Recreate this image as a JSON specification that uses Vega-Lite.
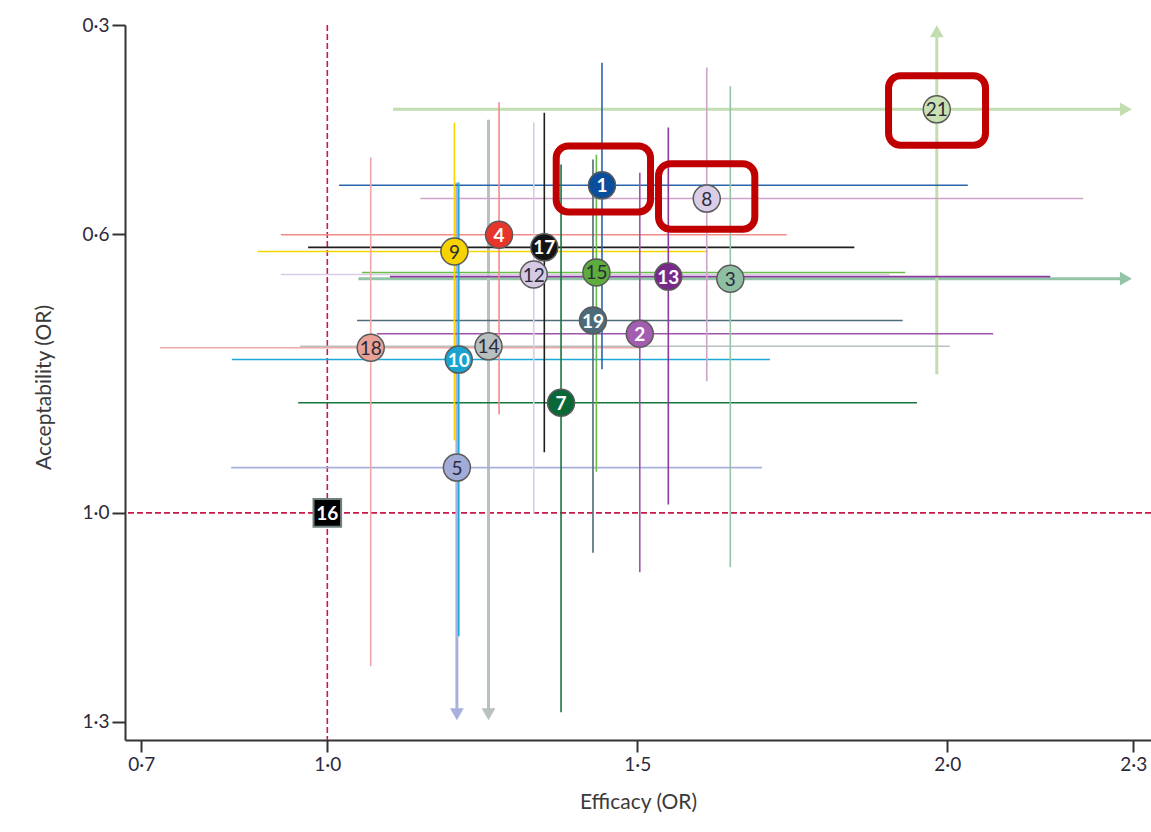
{
  "$schema": "https://vega.github.io/schema/vega-lite/v6.json",
  "width": 1026,
  "height": 715,
  "autosize": {"type": "none"},
  "padding": {"left": 125, "top": 25, "right": 0, "bottom": 92},
  "background": "white",
  "config": {
    "view": {"stroke": null},
    "font": "Lato",
    "axis": {
      "grid": false,
      "domainColor": "#333333",
      "domainWidth": 2,
      "tickColor": "#333333",
      "tickWidth": 2,
      "tickSize": 13,
      "labelFont": "Lato",
      "labelFontSize": 19,
      "labelColor": "#2b2b3b",
      "labelPadding": 3,
      "titleFont": "Lato",
      "titleFontSize": 21,
      "titleFontWeight": "normal",
      "titleColor": "#3a3a3a"
    }
  },
  "datasets": {
    "t": [
      {"id": 1, "x": 1.443, "y": 0.530, "xlo": 1.019, "xhi": 2.033, "ylo": 0.354, "yhi": 0.794},
      {"id": 2, "x": 1.504, "y": 0.743, "xlo": 1.080, "xhi": 2.074, "ylo": 0.512, "yhi": 1.085},
      {"id": 3, "x": 1.650, "y": 0.664, "xlo": 1.050, "xhi": 2.288, "ylo": 0.388, "yhi": 1.078},
      {"id": 4, "x": 1.277, "y": 0.601, "xlo": 0.925, "xhi": 1.741, "ylo": 0.411, "yhi": 0.859},
      {"id": 5, "x": 1.209, "y": 0.935, "xlo": 0.845, "xhi": 1.701, "ylo": 0.526, "yhi": 1.289},
      {"id": 7, "x": 1.377, "y": 0.842, "xlo": 0.953, "xhi": 1.951, "ylo": 0.500, "yhi": 1.286},
      {"id": 8, "x": 1.612, "y": 0.549, "xlo": 1.150, "xhi": 2.219, "ylo": 0.361, "yhi": 0.811},
      {"id": 9, "x": 1.205, "y": 0.625, "xlo": 0.887, "xhi": 1.614, "ylo": 0.440, "yhi": 0.896},
      {"id": 10, "x": 1.212, "y": 0.780, "xlo": 0.846, "xhi": 1.714, "ylo": 0.526, "yhi": 1.177},
      {"id": 12, "x": 1.333, "y": 0.658, "xlo": 0.925, "xhi": 1.907, "ylo": 0.440, "yhi": 1.002},
      {"id": 13, "x": 1.550, "y": 0.661, "xlo": 1.101, "xhi": 2.166, "ylo": 0.447, "yhi": 0.988},
      {"id": 14, "x": 1.260, "y": 0.761, "xlo": 0.956, "xhi": 2.004, "ylo": 0.436, "yhi": 1.289},
      {"id": 15, "x": 1.434, "y": 0.655, "xlo": 1.056, "xhi": 1.932, "ylo": 0.486, "yhi": 0.941},
      {"id": 16, "x": 1.0, "y": 1.0},
      {"id": 17, "x": 1.350, "y": 0.619, "xlo": 0.969, "xhi": 1.850, "ylo": 0.426, "yhi": 0.913},
      {"id": 18, "x": 1.070, "y": 0.763, "xlo": 0.730, "xhi": 1.504, "ylo": 0.490, "yhi": 1.220},
      {"id": 19, "x": 1.4285, "y": 0.724, "xlo": 1.048, "xhi": 1.928, "ylo": 0.493, "yhi": 1.057},
      {"id": 21, "x": 1.983, "y": 0.421, "xlo": 1.106, "xhi": 2.288, "ylo": 0.308, "yhi": 0.801}
    ],
    "arrows": [
      {"id": 21, "x": 2.288, "y": 0.421, "dir": "right"},
      {"id": 21, "x": 1.983, "y": 0.309, "dir": "up"},
      {"id": 3, "x": 2.288, "y": 0.664, "dir": "right"},
      {"id": 5, "x": 1.209, "y": 1.289, "dir": "down"},
      {"id": 14, "x": 1.260, "y": 1.289, "dir": "down"}
    ],
    "hl": [
      {"x1": 1.3692, "x2": 1.5213, "y1": 0.4736, "y2": 0.5683},
      {"x1": 1.5342, "x2": 1.6895, "y1": 0.4990, "y2": 0.5931},
      {"x1": 1.9052, "x2": 2.0616, "y1": 0.3727, "y2": 0.4726}
    ]
  },
  "layer": [
    {
      "data": {"values": [{"v": 1}]},
      "mark": {"type": "rule", "color": "#c8194c", "strokeDash": [6, 3], "strokeWidth": 1.6},
      "encoding": {
        "x": {"field": "v", "type": "quantitative", "title": "Efficacy (OR)",
              "scale": {"domain": [0.6737, 2.3285], "nice": false, "zero": false},
              "axis": {"values": [0.7, 1.0, 1.5, 2.0, 2.3], "labelExpr": "replace(format(datum.value,'.1f'),'.','·')", "tickSize": 12, "labelPadding": 3, "titleY": 62, "titleBaseline": "middle"}}
      }
    },
    {
      "data": {"values": [{"v": 1}]},
      "mark": {"type": "rule", "color": "#c8194c", "strokeDash": [6, 3], "strokeWidth": 1.6},
      "encoding": {
        "y": {"field": "v", "type": "quantitative", "title": "Acceptability (OR)",
              "scale": {"domain": [0.3, 1.32583], "nice": false, "zero": false, "reverse": true},
              "axis": {"values": [0.3, 0.6, 1.0, 1.3], "labelExpr": "replace(format(datum.value,'.1f'),'.','·')", "titleX": -81, "titleY": 362, "titleBaseline": "middle"}}
      }
    },
    {
      "data": {"name": "t"},
      "transform": [{"filter": {"field": "id", "oneOf": [21, 3]}}],
      "mark": {"type": "rule", "strokeWidth": 3},
      "encoding": {
        "x": {"field": "xlo", "type": "quantitative", "title": "Efficacy (OR)", "scale": {"domain": [0.6737, 2.3285], "nice": false, "zero": false}},
        "x2": {"field": "xhi"},
        "y": {"field": "y", "type": "quantitative", "title": "Acceptability (OR)", "scale": {"domain": [0.3, 1.32583], "nice": false, "zero": false, "reverse": true}},
        "color": {"field": "id", "type": "nominal", "legend": null,
                  "scale": {"domain": [1, 2, 3, 4, 5, 7, 8, 9, 10, 12, 13, 14, 15, 16, 17, 18, 19, 21],
                            "range": ["#2a64ad", "#9d55aa", "#93c4a8", "#f28b87", "#a8b0dc", "#16753f", "#cfa3cc", "#f6d500", "#1ea8d6", "#d9cbe7", "#8b3b9c", "#b9c0c0", "#6bbd48", "#000000", "#1e1e1e", "#f0a8a6", "#4f6b79", "#c2ddb0"]}}
      }
    },
    {
      "data": {"name": "t"},
      "transform": [{"filter": {"field": "id", "oneOf": [21, 5, 14]}}],
      "mark": {"type": "rule", "strokeWidth": 3},
      "encoding": {
        "x": {"field": "x", "type": "quantitative", "title": "Efficacy (OR)", "scale": {"domain": [0.6737, 2.3285], "nice": false, "zero": false}},
        "y": {"field": "ylo", "type": "quantitative", "title": "Acceptability (OR)", "scale": {"domain": [0.3, 1.32583], "nice": false, "zero": false, "reverse": true}},
        "y2": {"field": "yhi"},
        "color": {"field": "id", "type": "nominal", "legend": null}
      }
    },
    {
      "data": {"name": "t"},
      "transform": [{"filter": "isValid(datum.xlo) && datum.id != 21 && datum.id != 3"}],
      "mark": {"type": "rule", "strokeWidth": 1.6},
      "encoding": {
        "x": {"field": "xlo", "type": "quantitative", "title": "Efficacy (OR)", "scale": {"domain": [0.6737, 2.3285], "nice": false, "zero": false}},
        "x2": {"field": "xhi"},
        "y": {"field": "y", "type": "quantitative", "title": "Acceptability (OR)", "scale": {"domain": [0.3, 1.32583], "nice": false, "zero": false, "reverse": true}},
        "color": {"field": "id", "type": "nominal", "legend": null}
      }
    },
    {
      "data": {"name": "t"},
      "transform": [{"filter": "isValid(datum.ylo) && datum.id != 21 && datum.id != 5 && datum.id != 14"}],
      "mark": {"type": "rule", "strokeWidth": 1.6},
      "encoding": {
        "x": {"field": "x", "type": "quantitative", "title": "Efficacy (OR)", "scale": {"domain": [0.6737, 2.3285], "nice": false, "zero": false}},
        "y": {"field": "ylo", "type": "quantitative", "title": "Acceptability (OR)", "scale": {"domain": [0.3, 1.32583], "nice": false, "zero": false, "reverse": true}},
        "y2": {"field": "yhi"},
        "color": {"field": "id", "type": "nominal", "legend": null}
      }
    },
    {
      "data": {"name": "arrows"},
      "mark": {"type": "point", "filled": true, "size": 190, "opacity": 1},
      "encoding": {
        "x": {"field": "x", "type": "quantitative", "title": "Efficacy (OR)", "scale": {"domain": [0.6737, 2.3285], "nice": false, "zero": false}},
        "y": {"field": "y", "type": "quantitative", "title": "Acceptability (OR)", "scale": {"domain": [0.3, 1.32583], "nice": false, "zero": false, "reverse": true}},
        "color": {"field": "id", "type": "nominal", "legend": null},
        "shape": {"field": "dir", "type": "nominal", "legend": null,
                  "scale": {"domain": ["right", "up", "down"], "range": ["triangle-right", "triangle-up", "triangle-down"]}}
      }
    },
    {
      "data": {"name": "t"},
      "transform": [{"filter": "datum.id != 16"}],
      "mark": {"type": "point", "shape": "circle", "filled": true, "size": 729, "stroke": "#5a5a5a", "strokeWidth": 1.5, "opacity": 1},
      "encoding": {
        "x": {"field": "x", "type": "quantitative", "title": "Efficacy (OR)", "scale": {"domain": [0.6737, 2.3285], "nice": false, "zero": false}},
        "y": {"field": "y", "type": "quantitative", "title": "Acceptability (OR)", "scale": {"domain": [0.3, 1.32583], "nice": false, "zero": false, "reverse": true}},
        "fill": {"field": "id", "type": "nominal", "legend": null,
                 "scale": {"domain": [1, 2, 3, 4, 5, 7, 8, 9, 10, 12, 13, 14, 15, 17, 18, 19, 21],
                           "range": ["#0b4f9c", "#a25cb0", "#8fbfa2", "#e8352b", "#a2acd8", "#0a6836", "#d9cde7", "#f7d300", "#1aa3cf", "#d5c9e4", "#772a8a", "#b8bfbf", "#5cad3b", "#141414", "#e8a297", "#4d6a79", "#c9e1b2"]}}
      }
    },
    {
      "data": {"name": "t"},
      "transform": [{"filter": "datum.id == 16"}],
      "mark": {"type": "point", "shape": "square", "filled": true, "size": 760, "fill": "#000000", "stroke": "#6f8080", "strokeWidth": 2, "opacity": 1},
      "encoding": {
        "x": {"field": "x", "type": "quantitative", "title": "Efficacy (OR)", "scale": {"domain": [0.6737, 2.3285], "nice": false, "zero": false}},
        "y": {"field": "y", "type": "quantitative", "title": "Acceptability (OR)", "scale": {"domain": [0.3, 1.32583], "nice": false, "zero": false, "reverse": true}}
      }
    },
    {
      "data": {"name": "t"},
      "transform": [{"filter": {"field": "id", "oneOf": [1, 2, 4, 7, 10, 13, 16, 17, 19]}}],
      "mark": {"type": "text", "font": "Lato", "fontSize": 19, "fontWeight": "bold", "color": "#ffffff", "align": "center", "baseline": "middle", "dy": 1},
      "encoding": {
        "x": {"field": "x", "type": "quantitative", "title": "Efficacy (OR)", "scale": {"domain": [0.6737, 2.3285], "nice": false, "zero": false}},
        "y": {"field": "y", "type": "quantitative", "title": "Acceptability (OR)", "scale": {"domain": [0.3, 1.32583], "nice": false, "zero": false, "reverse": true}},
        "text": {"field": "id", "type": "nominal"}
      }
    },
    {
      "data": {"name": "t"},
      "transform": [{"filter": {"field": "id", "oneOf": [3, 5, 8, 9, 12, 14, 15, 18, 21]}}],
      "mark": {"type": "text", "font": "Lato", "fontSize": 19, "color": "#2a2a3a", "align": "center", "baseline": "middle", "dy": 1},
      "encoding": {
        "x": {"field": "x", "type": "quantitative", "title": "Efficacy (OR)", "scale": {"domain": [0.6737, 2.3285], "nice": false, "zero": false}},
        "y": {"field": "y", "type": "quantitative", "title": "Acceptability (OR)", "scale": {"domain": [0.3, 1.32583], "nice": false, "zero": false, "reverse": true}},
        "text": {"field": "id", "type": "nominal"}
      }
    },
    {
      "data": {"name": "hl"},
      "mark": {"type": "rect", "filled": false, "color": "#c00000", "strokeWidth": 7, "cornerRadius": 12},
      "encoding": {
        "x": {"field": "x1", "type": "quantitative", "title": "Efficacy (OR)", "scale": {"domain": [0.6737, 2.3285], "nice": false, "zero": false}},
        "x2": {"field": "x2"},
        "y": {"field": "y1", "type": "quantitative", "title": "Acceptability (OR)", "scale": {"domain": [0.3, 1.32583], "nice": false, "zero": false, "reverse": true}},
        "y2": {"field": "y2"}
      }
    }
  ]
}
